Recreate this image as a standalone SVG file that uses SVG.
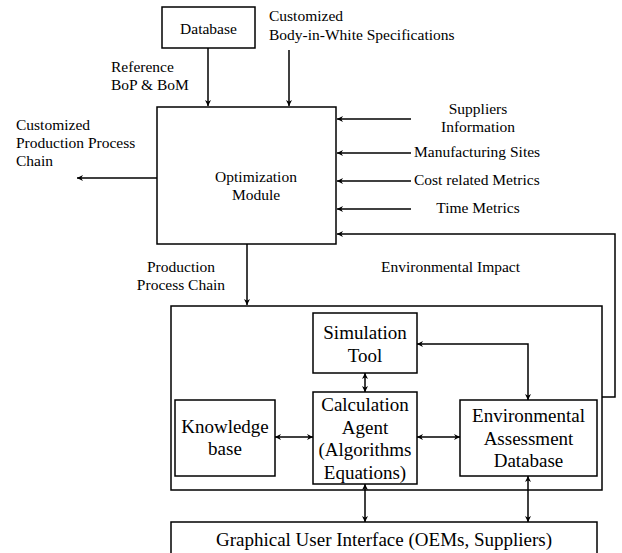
<svg xmlns="http://www.w3.org/2000/svg" width="622" height="553" viewBox="0 0 622 553" font-family="'Liberation Serif', 'Times New Roman', Times, serif">
<style>
text{font-family:'Liberation Serif','Times New Roman',Times,serif;fill:#000}
.box{fill:#fff;stroke:#000;stroke-width:1.5}
.ln{fill:none;stroke:#000;stroke-width:1.5}
.lb{font-size:15.5px}
.bt{font-size:19px;text-anchor:middle}
.m{text-anchor:middle}
</style>
<defs>
<marker id="ah" viewBox="0 0 10 10" refX="10" refY="5" markerWidth="6" markerHeight="6" markerUnits="userSpaceOnUse" orient="auto-start-reverse">
<path d="M0,0 L10,5 L0,10 L3,5 Z" fill="#000"/>
</marker>
</defs>
<rect width="622" height="553" fill="#fff"/>
<g id="connectors">
<line class="ln" x1="208" y1="48" x2="208" y2="106" marker-end="url(#ah)"/>
<line class="ln" x1="289" y1="50" x2="289" y2="106" marker-end="url(#ah)"/>
<line class="ln" x1="157" y1="178" x2="77" y2="178" marker-end="url(#ah)"/>
<line class="ln" x1="411" y1="119" x2="337" y2="119" marker-end="url(#ah)"/>
<line class="ln" x1="411" y1="153" x2="337" y2="153" marker-end="url(#ah)"/>
<line class="ln" x1="411" y1="181" x2="337" y2="181" marker-end="url(#ah)"/>
<line class="ln" x1="411" y1="209" x2="337" y2="209" marker-end="url(#ah)"/>
<polyline class="ln" points="602,397 615,397 615,234 337,234" marker-end="url(#ah)"/>
<line class="ln" x1="247" y1="244" x2="247" y2="305" marker-end="url(#ah)"/>
<line class="ln" x1="365" y1="373" x2="365" y2="392" marker-start="url(#ah)" marker-end="url(#ah)"/>
<line class="ln" x1="275" y1="437" x2="313" y2="437" marker-start="url(#ah)" marker-end="url(#ah)"/>
<line class="ln" x1="417" y1="437" x2="460" y2="437" marker-start="url(#ah)" marker-end="url(#ah)"/>
<polyline class="ln" points="417,344 528,344 528,400" marker-start="url(#ah)" marker-end="url(#ah)"/>
<line class="ln" x1="365" y1="484" x2="365" y2="522" marker-start="url(#ah)" marker-end="url(#ah)"/>
<line class="ln" x1="528" y1="476" x2="528" y2="522" marker-start="url(#ah)" marker-end="url(#ah)"/>
</g>
<g id="labels">
<text class="lb" x="111" y="72">Reference</text>
<text class="lb" x="111" y="90">BoP &amp; BoM</text>
<text class="lb" x="269" y="21">Customized</text>
<text class="lb" x="269" y="40">Body-in-White Specifications</text>
<text class="lb" x="16" y="130">Customized</text>
<text class="lb" x="16" y="148">Production Process</text>
<text class="lb" x="16" y="166">Chain</text>
<text class="lb m" x="478" y="114">Suppliers</text>
<text class="lb m" x="478" y="132">Information</text>
<text class="lb" x="414" y="157">Manufacturing Sites</text>
<text class="lb" x="414" y="185">Cost related Metrics</text>
<text class="lb m" x="478" y="213">Time Metrics</text>
<text class="lb m" x="181" y="272">Production</text>
<text class="lb m" x="181" y="290">Process Chain</text>
<text class="lb" x="381" y="272">Environmental Impact</text>
</g>
<g id="database">
<rect class="box" x="162" y="7" width="93" height="41"/>
<text class="lb m" x="208.5" y="34">Database</text>
</g>
<g id="optimization">
<rect class="box" x="157" y="107" width="179" height="137"/>
<text class="lb m" x="256" y="182">Optimization</text>
<text class="lb m" x="256" y="200">Module</text>
</g>
<g id="system">
<rect class="ln" x="171" y="306" width="431" height="184"/>
</g>
<g id="simulation">
<rect class="box" x="313" y="313" width="104" height="60"/>
<text class="bt" x="365" y="339">Simulation</text>
<text class="bt" x="365" y="362">Tool</text>
</g>
<g id="calculation">
<rect class="box" x="313" y="392" width="104" height="92"/>
<text class="bt" x="365" y="411">Calculation</text>
<text class="bt" x="365" y="433.5">Agent</text>
<text class="bt" x="365" y="456">(Algorithms</text>
<text class="bt" x="365" y="478.5">Equations)</text>
</g>
<g id="knowledge">
<rect class="box" x="175" y="400" width="100" height="76"/>
<text class="bt" x="225" y="433">Knowledge</text>
<text class="bt" x="225" y="455">base</text>
</g>
<g id="environmental">
<rect class="box" x="460" y="400" width="137" height="76"/>
<text class="bt" x="528.5" y="422">Environmental</text>
<text class="bt" x="528.5" y="445">Assessment</text>
<text class="bt" x="528.5" y="467">Database</text>
</g>
<g id="gui">
<rect class="box" x="171" y="522" width="426" height="40"/>
<text class="bt" x="384" y="546">Graphical User Interface (OEMs, Suppliers)</text>
</g>
</svg>
